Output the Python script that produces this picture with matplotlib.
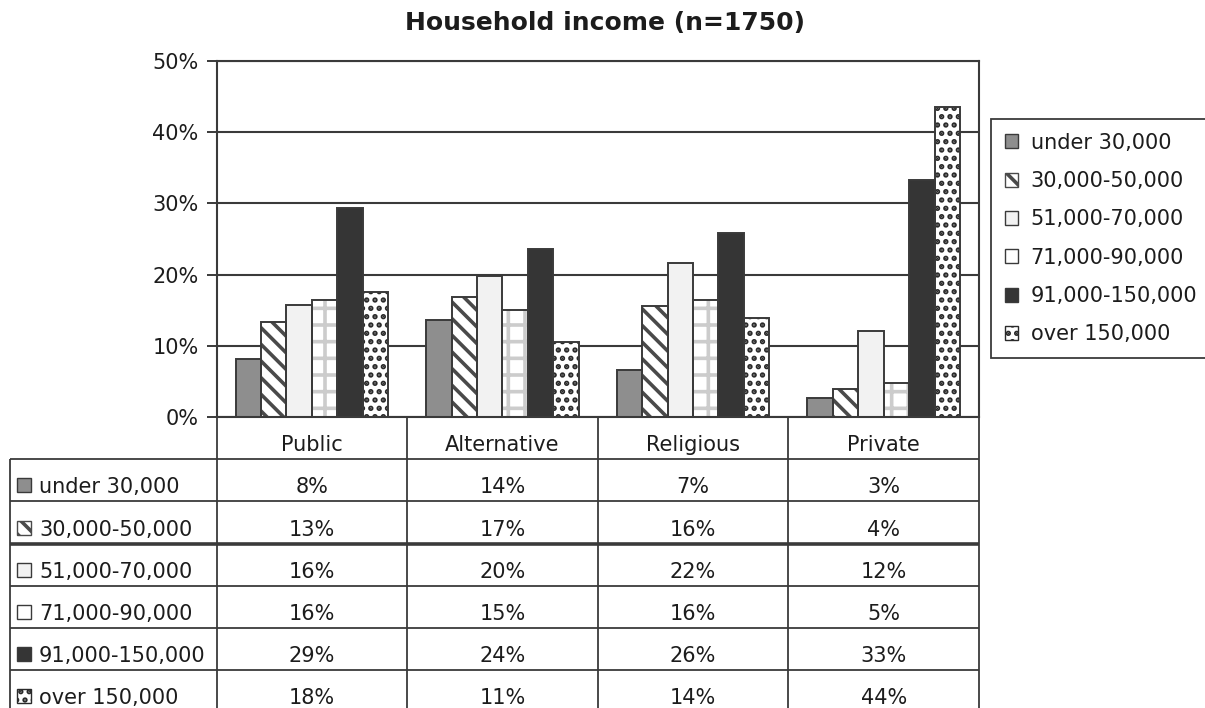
import matplotlib
matplotlib.use("Agg")
import matplotlib.pyplot as plt
from matplotlib.patches import Patch, Rectangle
import numpy as np

# ---------------- data ----------------
title = "Household income (n=1750)"
categories = ["Public", "Alternative", "Religious", "Private"]
series_labels = ["under 30,000", "30,000-50,000", "51,000-70,000",
                 "71,000-90,000", "91,000-150,000", "over 150,000"]
under_30k = [8.1, 13.6, 6.6, 2.7]
k30_50 = [13.4, 16.9, 15.6, 3.9]
k51_70 = [15.7, 19.8, 21.6, 12.1]
k71_90 = [16.4, 15.0, 16.4, 4.8]
k91_150 = [29.4, 23.6, 25.9, 33.3]
over_150k = [17.6, 10.6, 13.9, 43.6]
series_values = [under_30k, k30_50, k51_70, k71_90, k91_150, over_150k]
yticks = [0, 10, 20, 30, 40, 50]

# ---------------- styles ----------------
plt.rcParams["font.family"] = ["DejaVu Sans"]
plt.rcParams["hatch.linewidth"] = 2.6
TXT = "#1c1c1c"
LC = "#3a3a3a"
styles = [
    dict(fc="#8e8e8e", hatch=None, hc="none"),
    dict(fc="white", hatch="\\\\", hc="#4a4a4a"),
    dict(fc="#f2f2f2", hatch=None, hc="none"),
    dict(fc="white", hatch="+", hc="#cccccc"),
    dict(fc="#353535", hatch=None, hc="none"),
    dict(fc="white", hatch="..", hc="#2a2a2a"),
]

W, H = 1205, 708
fig = plt.figure(figsize=(W / 100, H / 100), dpi=100)

# plot area in pixels
px_left, px_right, px_top, px_bottom = 216.5, 979.0, 61.0, 417.0
ax = fig.add_axes([px_left / W, (H - px_bottom) / H,
                   (px_right - px_left) / W, (px_bottom - px_top) / H])

n = len(series_values)
group = 0.8
bw = group / n
xc = np.arange(len(categories)) + 0.5
for i, (vals, st) in enumerate(zip(series_values, styles)):
    x = xc + (i - (n - 1) / 2) * bw
    ax.bar(x, vals, bw, color=st["fc"], edgecolor=st["hc"], linewidth=0,
           hatch=st["hatch"], zorder=2)
    ax.bar(x, vals, bw, fill=False, edgecolor=LC, linewidth=1.4, zorder=3)

ax.set_xlim(0, len(categories))
ax.set_ylim(yticks[0], yticks[-1])
ax.set_yticks(yticks)
ax.set_yticklabels([f"{t}%" for t in yticks], fontsize=15, color=TXT)
ax.set_xticks([])
ax.tick_params(axis="y", length=7, width=1.4, color=LC, pad=6)
ax.yaxis.grid(True, color=LC, linewidth=1.5)
ax.set_axisbelow(True)
for s in ax.spines.values():
    s.set_color(LC)
    s.set_linewidth(1.5)

fig.text(605 / W, 1 - 23 / H, title, ha="center", va="center",
         fontsize=18, fontweight="bold", color=TXT)

# legend
handles = []
for st in styles:
    hatch = st["hatch"] if st["hatch"] != "+" else None
    handles.append(Patch(facecolor=st["fc"], edgecolor=LC if hatch is None else st["hc"],
                         hatch=hatch, linewidth=1.0))
leg = ax.legend(handles, series_labels, loc="upper left",
                bbox_to_anchor=(991 / W, 1 - 119 / H), bbox_transform=fig.transFigure,
                frameon=True, fancybox=False, edgecolor=LC, framealpha=1,
                fontsize=15, handlelength=0.65, handleheight=0.65,
                handletextpad=0.6, labelspacing=0.88, borderpad=0.65,
                borderaxespad=0)
leg.get_frame().set_linewidth(1.3)
for t in leg.get_texts():
    t.set_color(TXT)

# ---------------- data table ----------------
tbl_left = 10.0
row_h = 42.2
nrows = len(series_labels) + 1
unit_px = (px_right - px_left) / len(categories)
xl = -(px_left - tbl_left) / unit_px
tbl_bottom_px = px_bottom + nrows * row_h
ax_t = fig.add_axes([tbl_left / W, (H - tbl_bottom_px) / H,
                     (px_right - tbl_left) / W, (nrows * row_h) / H])
ax_t.set_xlim(xl, len(categories))
ax_t.set_ylim(nrows, 0)
ax_t.axis("off")

kw = dict(color=LC, clip_on=False, solid_capstyle="butt")
for c in range(len(categories) + 1):
    ax_t.plot([c, c], [0, nrows], lw=1.3, **kw)
ax_t.plot([xl, xl], [1, nrows], lw=1.3, **kw)
for r in range(1, nrows):
    ax_t.plot([xl, len(categories)], [r, r], lw=2.6 if r == 3 else 1.3, **kw)

dy = 0.12  # text sits slightly below the middle of each cell
for j, cat in enumerate(categories):
    ax_t.text(j + 0.5, 0.5 + dy, cat, ha="center", va="center_baseline",
              fontsize=15, color=TXT)

mk_w = 14 / unit_px
mk_h = 14 / row_h
for i, (lab, vals, st) in enumerate(zip(series_labels, series_values, styles)):
    r = i + 1
    hatch = st["hatch"] if st["hatch"] != "+" else None
    ax_t.add_patch(Rectangle((xl + 7 / unit_px, r + 0.5 + dy - mk_h / 2), mk_w, mk_h,
                             facecolor=st["fc"],
                             edgecolor=LC if hatch is None else st["hc"],
                             hatch=hatch, linewidth=1.0, clip_on=False))
    ax_t.text(xl + 29 / unit_px, r + 0.5 + dy, lab, ha="left", va="center_baseline",
              fontsize=15, color=TXT)
    for j, v in enumerate(vals):
        ax_t.text(j + 0.5, r + 0.5 + dy, f"{round(v)}%", ha="center",
                  va="center_baseline", fontsize=15, color=TXT)

fig.savefig("out.png", dpi=100)
